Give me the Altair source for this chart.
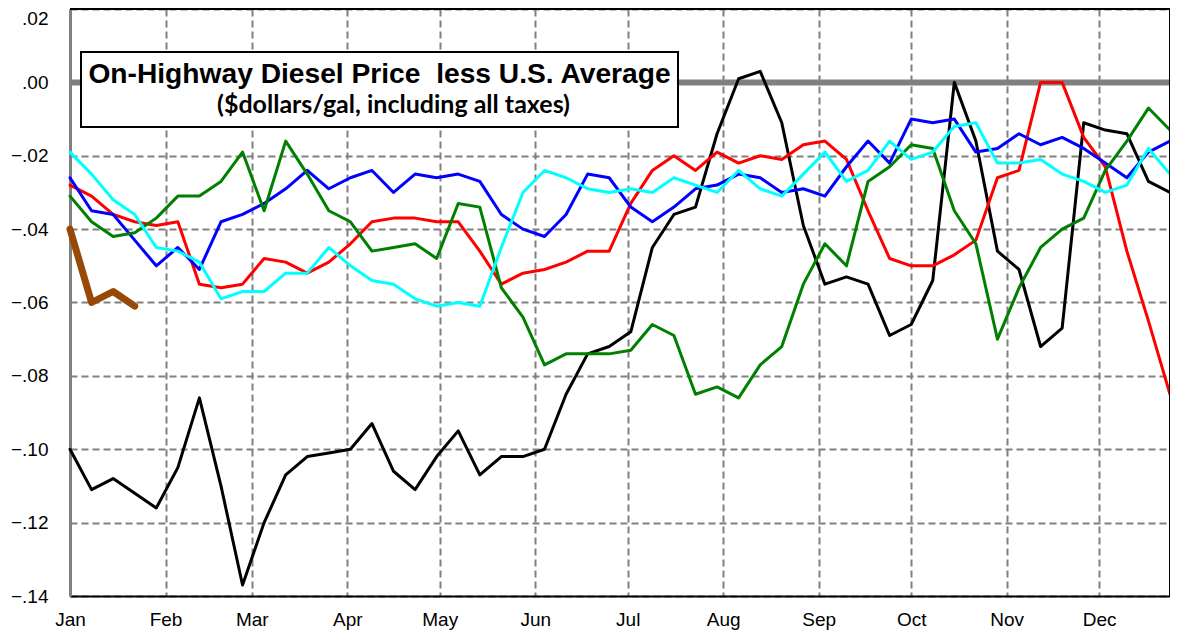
import altair as alt
import pandas as pd

# ---------------- data (weekly, $/gal difference vs U.S. average) ----------------
months = ["Jan", "Feb", "Mar", "Apr", "May", "Jun", "Jul", "Aug", "Sep", "Oct", "Nov", "Dec"]
month_start_days = [0, 31, 59, 90, 120, 151, 181, 212, 243, 273, 304, 334]
y_ticks = [-0.14, -0.12, -0.10, -0.08, -0.06, -0.04, -0.02, 0.0, 0.02]

black = [-0.100, -0.111, -0.108, -0.112, -0.116, -0.105, -0.086, -0.110, -0.137, -0.120,
         -0.107, -0.102, -0.101, -0.100, -0.093, -0.106, -0.111, -0.102, -0.095, -0.107,
         -0.102, -0.102, -0.100, -0.085, -0.074, -0.072, -0.068, -0.045, -0.036, -0.034,
         -0.014, 0.001, 0.003, -0.011, -0.039, -0.055, -0.053, -0.055, -0.069, -0.066,
         -0.054, 0.000, -0.016, -0.046, -0.051, -0.072, -0.067, -0.011, -0.013, -0.014,
         -0.027, -0.030]
red = [-0.028, -0.031, -0.036, -0.038, -0.039, -0.038, -0.055, -0.056, -0.055, -0.048,
       -0.049, -0.052, -0.049, -0.044, -0.038, -0.037, -0.037, -0.038, -0.038, -0.046,
       -0.055, -0.052, -0.051, -0.049, -0.046, -0.046, -0.033, -0.024, -0.020, -0.024,
       -0.019, -0.022, -0.020, -0.021, -0.017, -0.016, -0.021, -0.035, -0.048, -0.050,
       -0.050, -0.047, -0.043, -0.026, -0.024, 0.000, 0.000, -0.015, -0.023, -0.046,
       -0.065, -0.085]
blue = [-0.026, -0.035, -0.036, -0.043, -0.050, -0.045, -0.051, -0.038, -0.036, -0.033,
        -0.029, -0.024, -0.029, -0.026, -0.024, -0.030, -0.025, -0.026, -0.025, -0.027,
        -0.036, -0.040, -0.042, -0.036, -0.025, -0.026, -0.034, -0.038, -0.034, -0.029,
        -0.028, -0.025, -0.026, -0.030, -0.029, -0.031, -0.023, -0.016, -0.022, -0.010,
        -0.011, -0.010, -0.019, -0.018, -0.014, -0.017, -0.015, -0.018, -0.022, -0.026,
        -0.019, -0.016]
green = [-0.031, -0.038, -0.042, -0.041, -0.037, -0.031, -0.031, -0.027, -0.019, -0.035,
         -0.016, -0.025, -0.035, -0.038, -0.046, -0.045, -0.044, -0.048, -0.033, -0.034,
         -0.056, -0.064, -0.077, -0.074, -0.074, -0.074, -0.073, -0.066, -0.069, -0.085,
         -0.083, -0.086, -0.077, -0.072, -0.055, -0.044, -0.050, -0.027, -0.023, -0.017,
         -0.018, -0.035, -0.044, -0.070, -0.056, -0.045, -0.040, -0.037, -0.024, -0.016,
         -0.007, -0.013]
cyan = [-0.019, -0.025, -0.032, -0.036, -0.045, -0.046, -0.049, -0.059, -0.057, -0.057,
        -0.052, -0.052, -0.045, -0.050, -0.054, -0.055, -0.059, -0.061, -0.060, -0.061,
        -0.045, -0.030, -0.024, -0.026, -0.029, -0.030, -0.029, -0.030, -0.026, -0.028,
        -0.030, -0.024, -0.029, -0.031, -0.025, -0.019, -0.027, -0.024, -0.016, -0.021,
        -0.019, -0.012, -0.011, -0.022, -0.022, -0.021, -0.025, -0.027, -0.030, -0.028,
        -0.018, -0.025]
brown = [-0.040, -0.060, -0.057, -0.061]

title_line1 = "On-Highway Diesel Price\u00a0 less U.S. Average"
title_line2 = "($dollars/gal, including all taxes)"

# ---------------- scales / axes ----------------
W, H = 1100, 587
x_scale = alt.Scale(domain=[0, 357], nice=False, zero=False)
y_scale = alt.Scale(domain=[-0.14, 0.02], nice=False, zero=False)

month_arr = "[" + ",".join("'%s'" % m for m in months) + "]"
day_arr = "[" + ",".join(str(d) for d in month_start_days) + "]"

x_axis = alt.Axis(values=month_start_days, labelExpr=f"{month_arr}[indexof({day_arr}, datum.value)]",
                  grid=True, gridColor="#808080", gridDash=[7, 4], gridWidth=2,
                  domainColor="#000000", domainWidth=2, ticks=False,
                  labelPadding=14, labelFontSize=19, labelFont="Liberation Sans",
                  labelColor="#000000", labelFlush=False, labelOverlap=False, title=None)
y_axis = alt.Axis(values=y_ticks, labelExpr="replace(format(datum.value, '.2f'), '0.', '.')",
                  grid=True, gridColor="#808080", gridDash=[7, 4], gridWidth=2,
                  domainColor="#808080", domainWidth=3, ticks=False,
                  labelPadding=22, labelFontSize=19, labelFont="Liberation Sans",
                  labelBaseline={"condition": {"test": "datum.value > 0.015", "value": "top"},
                                 "value": "middle"},
                  labelColor="#000000", labelOverlap=False, labelFlush=False, title=None)


def series_layer(values, color, width=3):
    df = pd.DataFrame({"day": [7 * i for i in range(len(values))], "value": values})
    return alt.Chart(df).mark_line(color=color, strokeWidth=width, strokeJoin="round",
                                   strokeCap="round").encode(
        x=alt.X("day:Q", scale=x_scale, axis=x_axis),
        y=alt.Y("value:Q", scale=y_scale, axis=y_axis),
    )


zero_line = alt.Chart(pd.DataFrame({"v": [0.0]})).mark_rule(color="#808080", strokeWidth=6).encode(
    y=alt.Y("v:Q", scale=y_scale, axis=y_axis))
top_border = alt.Chart(pd.DataFrame({"v": [0.02]})).mark_rule(color="#000000", strokeWidth=2).encode(
    y=alt.Y("v:Q", scale=y_scale, axis=y_axis))
right_border = alt.Chart(pd.DataFrame({"d": [357]})).mark_rule(color="#000000", strokeWidth=2).encode(
    x=alt.X("d:Q", scale=x_scale, axis=x_axis))

box = alt.Chart(pd.DataFrame({"a": [0]})).mark_rect(fill="white", stroke="black", strokeWidth=2).encode(
    x=alt.value(11), x2=alt.value(608), y=alt.value(43), y2=alt.value(118))
t1 = alt.Chart(pd.DataFrame({"a": [0]})).mark_text(
    text=title_line1, font="Liberation Sans", fontWeight="bold", fontSize=28.2,
    align="center", baseline="alphabetic", color="black").encode(x=alt.value(309.5), y=alt.value(73.5))
t2 = alt.Chart(pd.DataFrame({"a": [0]})).mark_text(
    text=title_line2, font="Lato", fontWeight="bold", fontSize=25.0,
    align="center", baseline="alphabetic", color="black").encode(x=alt.value(323.5), y=alt.value(104))

chart = alt.layer(
    zero_line,
    box, t1, t2,
    series_layer(black, "#000000"),
    series_layer(red, "#FF0000"),
    series_layer(blue, "#0000FF"),
    series_layer(green, "#008000"),
    series_layer(cyan, "#00FFFF"),
    series_layer(brown, "#984807", width=7),
    top_border, right_border,
).properties(
    width=W, height=H,
    padding={"left": 62, "top": 1, "right": 0, "bottom": 45},
    autosize=alt.AutoSizeParams(type="none"),
    background="white",
).configure_view(stroke=None)

chart.save("out.html", embed_options={"renderer": "svg", "actions": False})
